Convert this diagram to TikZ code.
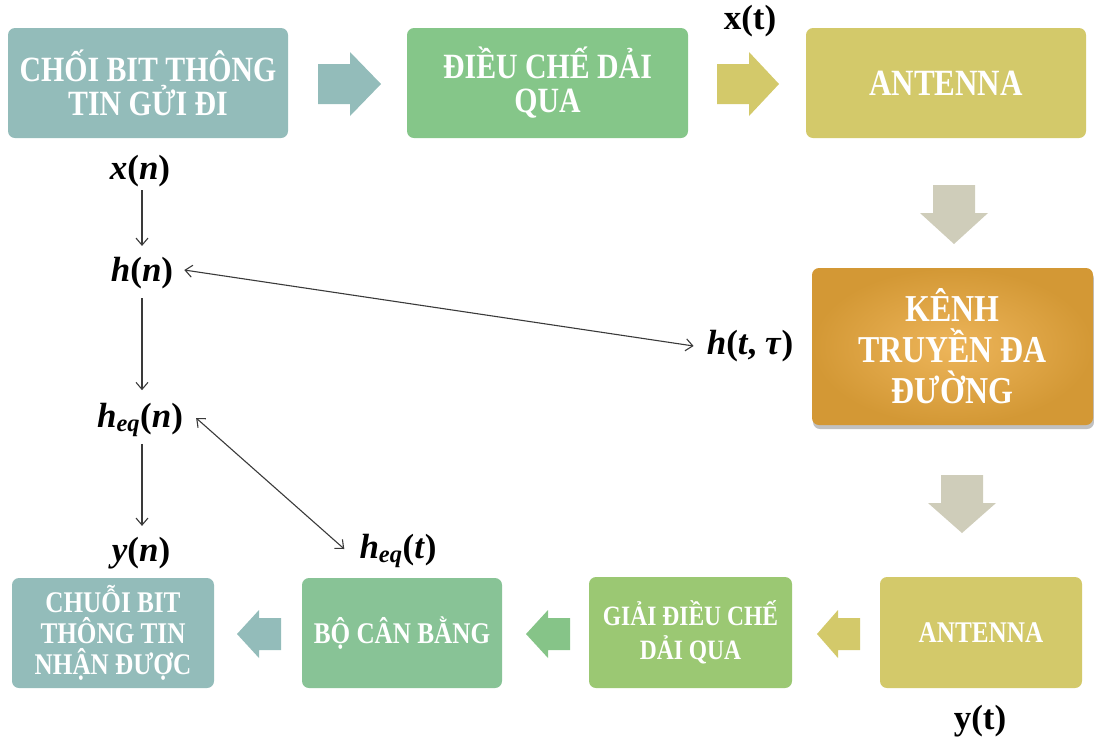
\documentclass[tikz,border=0pt]{standalone}
\usepackage{fontspec}
\setmainfont{Liberation Serif}
\newfontfamily\boxfont[FakeStretch=0.84]{Liberation Serif Bold}
\usetikzlibrary{arrows.meta,shadows,calc}

\definecolor{cTeal}{HTML}{93BCBA}
\definecolor{cGreenA}{HTML}{85C689}
\definecolor{cGreenB}{HTML}{88C396}
\definecolor{cGreenC}{HTML}{9BC873}
\definecolor{cYellow}{HTML}{D3C96A}
\definecolor{cGrey}{HTML}{CFCDBA}
\definecolor{cOrIn}{HTML}{EDB55A}
\definecolor{cOrOut}{HTML}{D39835}
\definecolor{cArrG}{HTML}{86C488}
\definecolor{cLine}{HTML}{3A3A3A}

\newcommand\mv[1]{\textit{#1}}

\tikzset{
  box/.style={rounded corners=7pt, inner sep=0pt, align=center, text=white,
              font=\boxfont\fontsize{35.5}{34}\selectfont},
  smallbox/.style={box, font=\boxfont\fontsize{30}{31}\selectfont},
  lab/.style={inner sep=1pt, font=\bfseries\fontsize{35}{35}\selectfont},
  conn/.style={draw=cLine, line width=1.1pt, -{Straight Barb[length=7pt,width=12pt]}},
  dconn/.style={draw=cLine, line width=1.1pt,
                {Straight Barb[length=7pt,width=12pt]}-{Straight Barb[length=7pt,width=12pt]}},
  % block arrow pointing along +x: total length, shaft half width, head half width, head length
  pics/barrow/.style n args={4}{code={
    \fill (-#1/2,-#2) -- (#1/2-#4,-#2) -- (#1/2-#4,-#3) -- (#1/2,0)
          -- (#1/2-#4,#3) -- (#1/2-#4,#2) -- (-#1/2,#2) -- cycle;
  }}
}

\begin{document}
\begin{tikzpicture}[x=1pt,y=-1pt]
\useasboundingbox (0,0) rectangle (1094,740);

% top row
\node[box, fill=cTeal, minimum width=280pt, minimum height=110pt] (src) at (148,83)
  {CHỐI BIT THÔNG\\TIN GỬI ĐI};
\node[box, fill=cGreenA, minimum width=281pt, minimum height=110pt] (mod) at (547.5,83)
  {ĐIỀU CHẾ DẢI\\QUA};
\node[box, fill=cYellow, minimum width=280pt, minimum height=110pt,
      font=\boxfont\fontsize{37}{37}\selectfont] (txant) at (946,83)
  {ANTENNA};

% channel
\node[box, minimum width=281pt, minimum height=157pt,
      shading=radial, inner color=cOrIn, outer color=cOrOut,
      drop shadow={shadow xshift=1pt, shadow yshift=-4pt, opacity=0.35, fill=black!70},
      font=\boxfont\fontsize{38}{41}\selectfont] (chan) at (952.5,346.5)
  {KÊNH\\TRUYỀN ĐA\\ĐƯỜNG};

% bottom row
\node[smallbox, fill=cTeal, minimum width=202pt, minimum height=110pt] (sink) at (113,633)
  {CHUỖI BIT\\THÔNG TIN\\NHẬN ĐƯỢC};
\node[smallbox, fill=cGreenB, minimum width=200pt, minimum height=110pt] (eq) at (402,633)
  {BỘ CÂN BẰNG};
\node[smallbox, fill=cGreenC, minimum width=203pt, minimum height=111pt,
      font=\boxfont\fontsize{28}{34}\selectfont] (demod) at (690.5,632.5)
  {GIẢI ĐIỀU CHẾ\\DẢI QUA};
\node[smallbox, fill=cYellow, minimum width=202pt, minimum height=111pt] (rxant) at (981,632.5)
  {ANTENNA};

% block arrows between the stages
\pic[fill=cTeal] at (349.5,84) {barrow={63}{20}{32}{31}};
\pic[fill=cYellow] at (748,84) {barrow={62}{20}{32}{30}};
\pic[fill=cGrey, rotate=-90] at (954,214.5) {barrow={59}{21}{34}{31}};
\pic[fill=cGrey, rotate=-90] at (962,504) {barrow={58}{21}{34}{30}};
\pic[fill=cYellow, rotate=180] at (838.5,634) {barrow={43}{16}{24}{21}};
\pic[fill=cArrG, rotate=180] at (548,634) {barrow={44}{16}{24}{22}};
\pic[fill=cTeal, rotate=180] at (259,634) {barrow={44}{16}{24}{22}};

% signal labels
\node[lab] (xt) at (750,21) {x(t)};
\node[lab] (yt) at (980,721) {y(t)};
\node[lab] (xn) at (140,171) {\mv{x}(\mv{n})};
\node[lab] (hn) at (142,273) {\mv{h}(\mv{n})};
\node[lab] (heqn) at (140,420) {\mv{h}\textsubscript{\mv{eq}}(\mv{n})};
\node[lab] (yn) at (141,553) {\mv{y}(\mv{n})};
\node[lab] (heqt) at (398,551) {\mv{h}\textsubscript{\mv{eq}}(\mv{t})};
\node[lab] (htau) at (750,346) {\mv{h}(\mv{t}, \mv{τ})};

% relations between the signals
\coordinate (axis) at (142,0);
\draw[conn, shorten <=2pt, shorten >=10pt] (axis |- xn.south) -- (axis |- hn.north);
\draw[conn, shorten <=8pt, shorten >=12pt] (axis |- hn.south) -- (axis |- heqn.north);
\draw[conn, shorten <=6pt, shorten >=10pt] (axis |- heqn.south) -- (axis |- yn.north);
\draw[dconn] ($(hn.east)+(10,-3)$) -- ($(htau.west)+(-12,0)$);
\draw[dconn] ($(heqn.east)+(12,-2)$) -- ($(heqt.west)+(-14,-2)$);
\end{tikzpicture}
\end{document}
